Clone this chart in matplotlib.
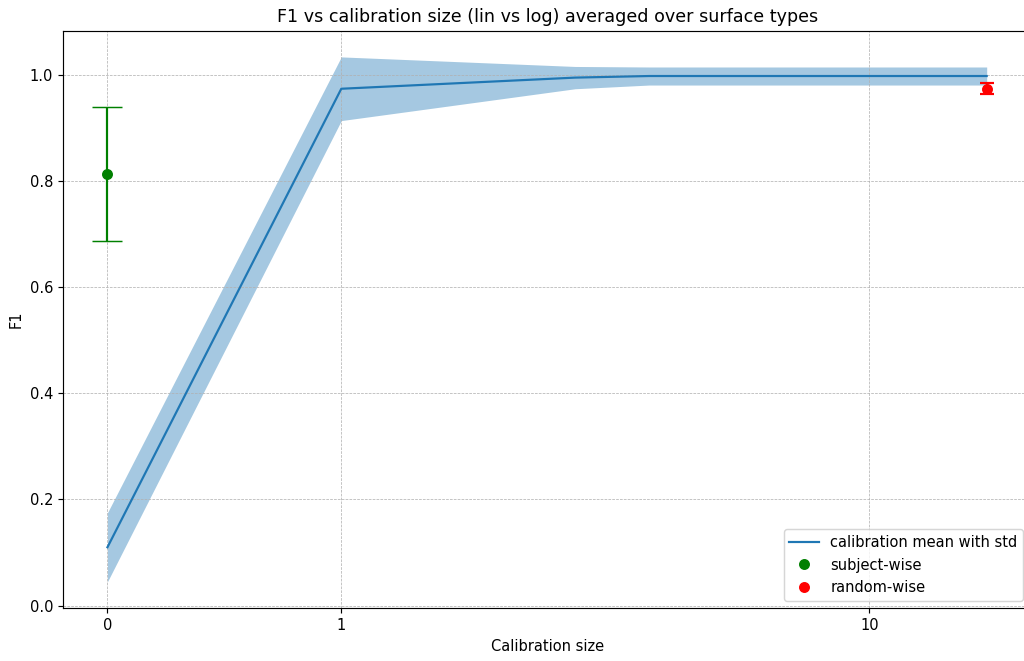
import numpy as np
import matplotlib
matplotlib.use("Agg")
import matplotlib.pyplot as plt
from matplotlib.ticker import NullLocator

# calibration curve (mean and std over surface types)
calib_sizes = [0, 1, 2, 3, 5, 10, 19]
calib_mean = [0.110, 0.974, 0.995, 0.998, 0.998, 0.998, 0.998]
calib_std = [0.065, 0.060, 0.021, 0.017, 0.017, 0.017, 0.017]

# baselines
subject_x = [0]
subject_mean = [0.813]
subject_std = [0.126]

random_x = [19]
random_mean = [0.974]
random_std = [0.010]

xtick_vals = [0, 1, 10]
xtick_labels = ['0', '1', '10']

DPI = 105


def main():
    fig = plt.figure(figsize=(1024 / DPI, 661 / DPI), dpi=DPI)
    ax = fig.add_axes([0.062, 0.0802, 0.9445, 0.8734])

    mean = np.array(calib_mean)
    std = np.array(calib_std)
    ax.plot(calib_sizes, mean, color='C0', label='calibration mean with std')
    ax.fill_between(calib_sizes, mean - std, mean + std, color='C0', alpha=0.4, linewidth=0)

    ax.errorbar(subject_x, subject_mean, yerr=subject_std, fmt='none',
                ecolor='green', elinewidth=1.5, capsize=10, capthick=1)
    ax.plot(subject_x, subject_mean, 'o', color='green', markersize=6.5, label='subject-wise')

    ax.errorbar(random_x, random_mean, yerr=random_std, fmt='none',
                ecolor='red', elinewidth=1.5, capsize=5, capthick=1.5)
    ax.plot(random_x, random_mean, 'o', color='red', markersize=6.5, label='random-wise')

    ax.set_xscale('symlog', linthresh=2, linscale=1)
    ax.set_xticks(xtick_vals)
    ax.set_xticklabels(xtick_labels)
    ax.xaxis.set_minor_locator(NullLocator())

    ax.set_title('F1 vs calibration size (lin vs log) averaged over surface types', fontsize=12)
    ax.set_xlabel('Calibration size')
    ax.set_ylabel('F1')
    ax.grid(True, linestyle='--', linewidth=0.5)
    ax.legend(loc='lower right')

    fig.savefig('out.png', dpi=DPI)


if __name__ == '__main__':
    main()
